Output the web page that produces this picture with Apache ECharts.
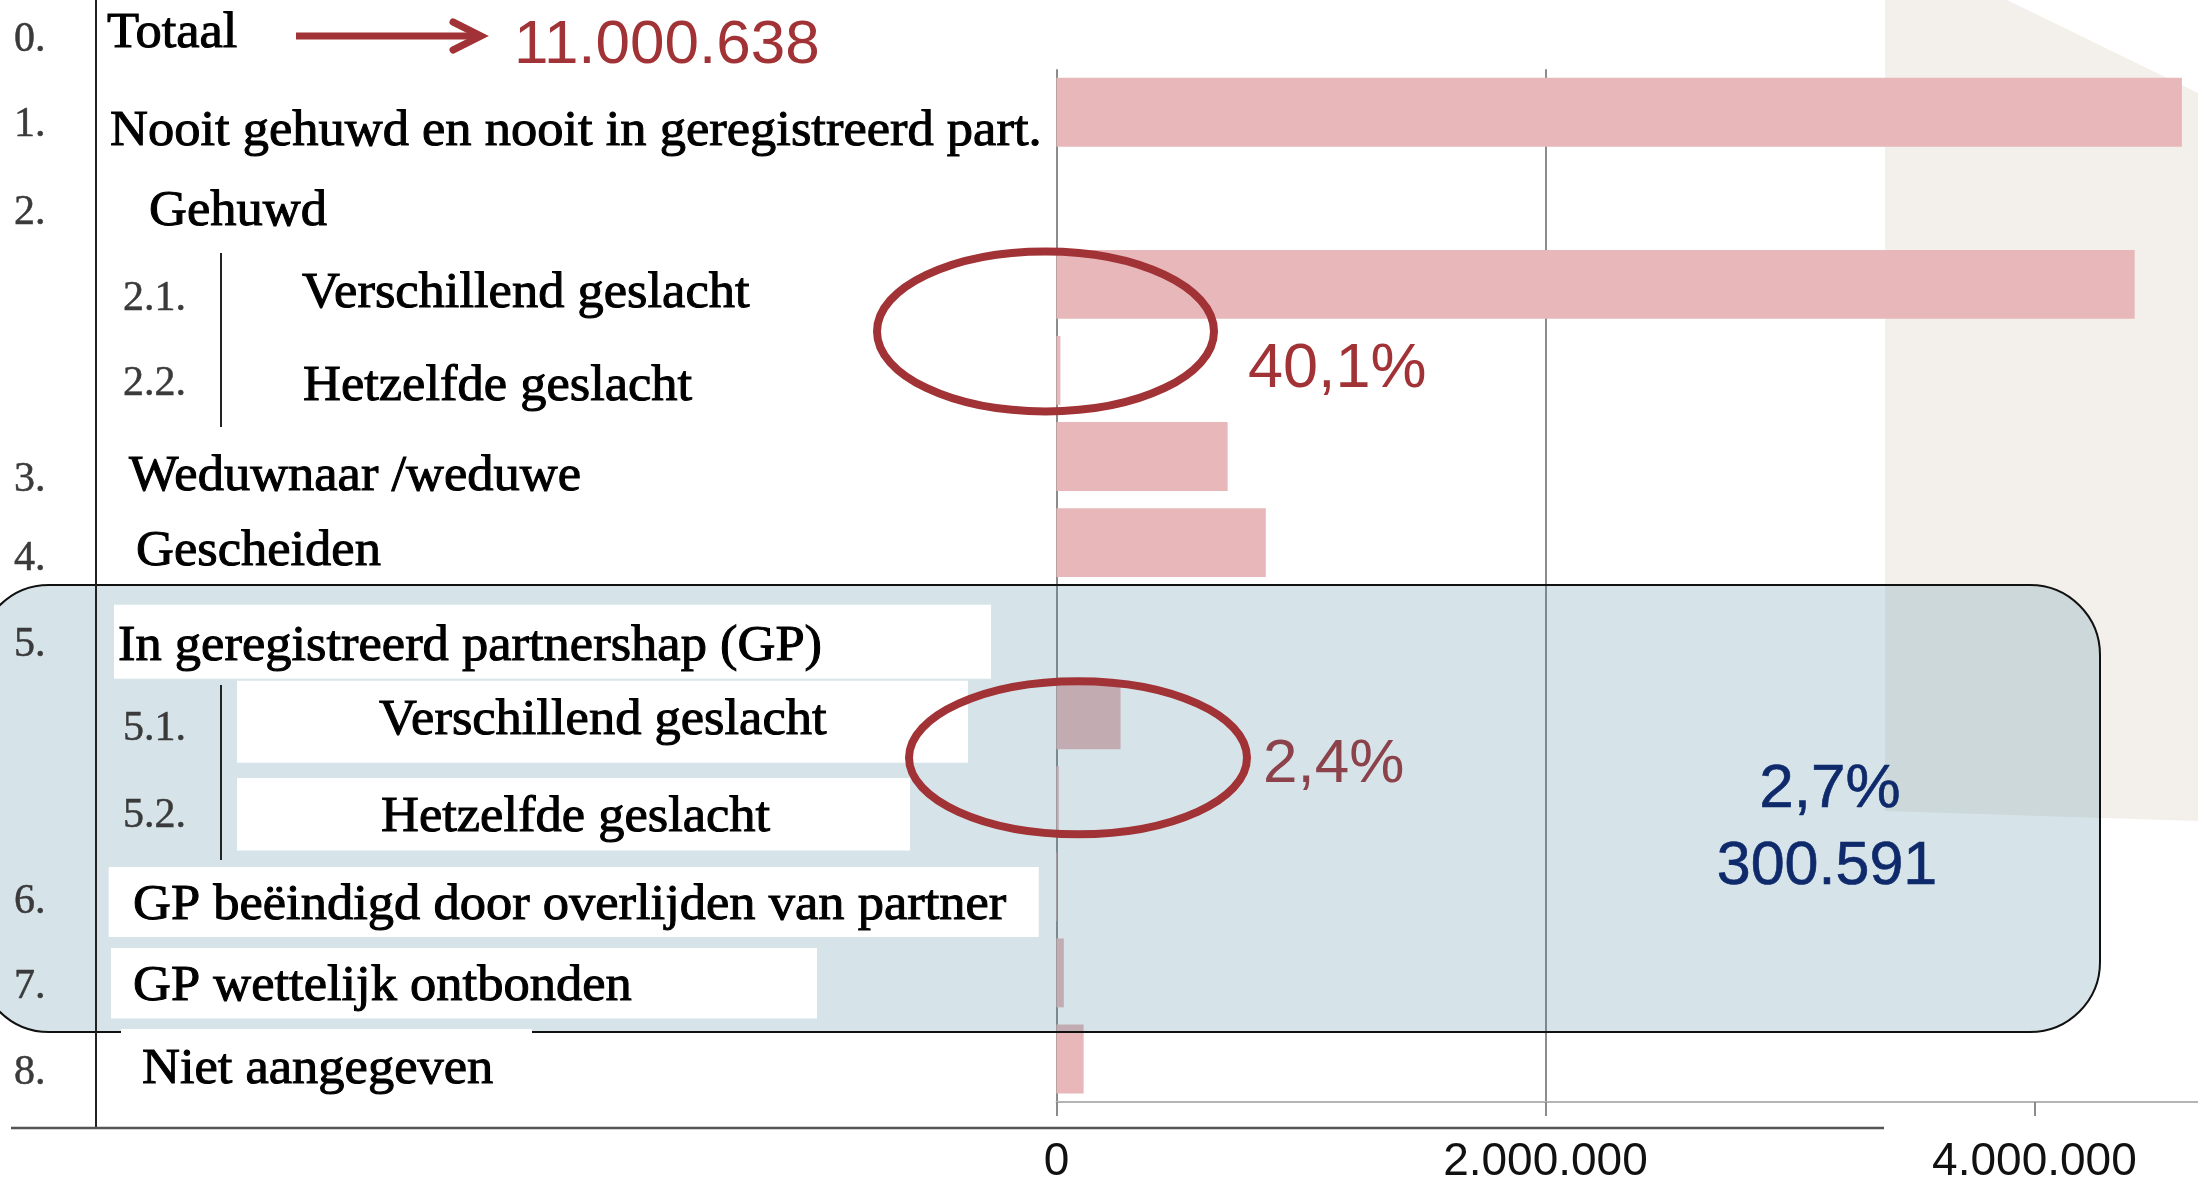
<!DOCTYPE html>
<html>
<head>
<meta charset="utf-8">
<script src="https://cdn.jsdelivr.net/npm/echarts@6/dist/echarts.min.js"></script>
<style>
  html, body { margin: 0; padding: 0; background: #fff; }
  #main { width: 2198px; height: 1185px; }
</style>
</head>
<body>
<div id="main"></div>
<script>
// rows of the table (burgerlijke staat), top to bottom
var rowNumbers = ['1.', '2.', '2.1.', '2.2.', '3.', '4.', '5.', '5.1.', '5.2.', '6.', '7.', '8.'];
var rowLabels = [
  'Nooit gehuwd en nooit in geregistreerd part.',
  'Gehuwd',
  'Verschillend geslacht',
  'Hetzelfde geslacht',
  'Weduwnaar /weduwe',
  'Gescheiden',
  'In geregistreerd partnershap (GP)',
  'Verschillend geslacht',
  'Hetzelfde geslacht',
  'GP beëindigd door overlijden van partner',
  'GP wettelijk ontbonden',
  'Niet aangegeven'
];
// persons per row
var values = [4603000, null, 4410000, 16000, 700000, 856000, null, 262000, 9500, 2000, 30000, 111000];
var xTicks = [0, 2000000, 4000000];
var xMax = 4669000;

var totalNumber = '0.';
var totalLabel = 'Totaal';
var totalValue = '11.000.638';
var shareMarried = '40,1%';
var shareGP = '2,4%';
var shareGPAll = '2,7%';
var countGPAll = '300.591';

// layout of the left-hand table
var subRow = [false, false, true, true, false, false, false, true, true, false, false, false];
var labelX = [110, 149, 302, 303, 129, 136, 118, 379, 381, 133, 133, 142];
var labelDy = [15.3, 9.3, 5.9, 12.8, 16.3, 5.1, 14.2, 2.6, 13, 15, 9.9, 7.1];
var numDy = [9.2, 11, 11.1, 9.5, 19.3, 12.2, 12.2, 10.6, 11, 11.5, 10, 10];
var TXT_SHIFT = 4;

var RED = '#a13235';
var NAVY = '#0f2a6b';
var SERIF = '"Liberation Serif", "Times New Roman", serif';
var SANS = '"Liberation Sans", Arial, sans-serif';

function dots(v) {
  return String(v).replace(/\B(?=(\d{3})+(?!\d))/g, '.');
}

var chart = echarts.init(document.getElementById('main'));

var option = {
  animation: false,
  backgroundColor: '#fff',
  grid: { left: 1056.5, right: 0, top: 69.2, height: 1038.8 },
  xAxis: {
    type: 'value',
    min: 0,
    max: xMax,
    interval: 2000000,
    axisLine: { show: true, lineStyle: { color: '#b4b4b4', width: 2 } },
    axisTick: { show: true, customValues: xTicks, length: 14, lineStyle: { color: '#8c8c8c', width: 2 } },
    splitLine: { show: true, showMaxLine: false, lineStyle: { color: '#8c8c8c', width: 2 } },
    axisLabel: {
      customValues: xTicks,
      margin: 33 + TXT_SHIFT,
      fontSize: 46,
      color: '#111',
      fontFamily: SANS,
      formatter: function (v) { return xTicks.indexOf(v) >= 0 ? dots(v) : ''; }
    }
  },
  yAxis: {
    type: 'category',
    inverse: true,
    data: rowNumbers,
    axisLine: { show: false },
    axisTick: { show: false },
    axisLabel: { show: false },
    splitLine: { show: false }
  },
  series: [{
    type: 'bar',
    data: values,
    barCategoryGap: '20%',
    itemStyle: { color: '#e7b7b9' },
    z: 2
  }]
};

chart.setOption(option);

// positions from the chart's own axes
var x0 = chart.convertToPixel({ xAxisIndex: 0 }, 0);
var rowY = rowNumbers.map(function (n, i) { return chart.convertToPixel({ yAxisIndex: 0 }, i); });
var pitch = rowY[1] - rowY[0];

var g = [];

// grey page corner on the right
g.push({
  type: 'polygon', z: -1, silent: true,
  shape: { points: [[1885, 0], [2007, 0], [2198, 93], [2198, 821], [1885, 811]] },
  style: { fill: '#f3f0ec' }
});

// blue rounded box around the GP rows
g.push({
  type: 'rect', z: 5, silent: true,
  shape: { x: -21, y: 585, width: 2121, height: 447, r: 70 },
  style: { fill: 'rgba(69,132,155,0.22)', stroke: '#111', lineWidth: 2 }
});

// white boxes behind the GP labels
var boxes = [
  [114, 604.7, 877, 74],
  [237, 680.8, 731, 82],
  [237, 778, 673, 72.5],
  [108.7, 867, 930, 70],
  [111, 948, 706, 70.6],
  [121, 1029, 411, 6]
];
boxes.forEach(function (b) {
  g.push({
    type: 'rect', z: 6, silent: true,
    shape: { x: b[0], y: b[1], width: b[2], height: b[3] },
    style: { fill: '#fff' }
  });
});

// table lines
g.push({ type: 'line', z: 7, silent: true, shape: { x1: 96, y1: 0, x2: 96, y2: 1128 }, style: { stroke: '#222', lineWidth: 2 } });
g.push({ type: 'line', z: 7, silent: true, shape: { x1: 11, y1: 1128, x2: 1884, y2: 1128 }, style: { stroke: '#555', lineWidth: 2.5 } });
g.push({ type: 'line', z: 7, silent: true, shape: { x1: 221, y1: 253, x2: 221, y2: 427 }, style: { stroke: '#222', lineWidth: 2 } });
g.push({ type: 'line', z: 7, silent: true, shape: { x1: 221, y1: 685, x2: 221, y2: 860 }, style: { stroke: '#222', lineWidth: 2 } });

function label(text, x, y, opts) {
  var fill = opts.color || '#000';
  g.push({
    type: 'text', z: 8, silent: true,
    x: x, y: y + TXT_SHIFT, scaleX: opts.scaleX || 1,
    style: {
      text: text,
      fontSize: opts.size,
      fontFamily: opts.family,
      fill: fill,
      stroke: opts.bold ? fill : null,
      lineWidth: opts.bold || 0,
      align: opts.align || 'left',
      verticalAlign: 'middle'
    }
  });
}

// total row
var yTotal = rowY[0] - pitch;
label(totalNumber, 14, yTotal + 10, { size: 42, family: SERIF, color: '#3a3a3a', bold: 0.5 });
label(totalLabel, 107, yTotal + 4, { size: 50, family: SERIF, scaleX: 1.05, bold: 1 });
label(totalValue, 514, yTotal + 16, { size: 62, family: SANS, color: RED });

// arrow
g.push({ type: 'line', z: 8, silent: true, shape: { x1: 296, y1: 36, x2: 478, y2: 36 }, style: { stroke: RED, lineWidth: 7 } });
g.push({
  type: 'polyline', z: 8, silent: true,
  shape: { points: [[453, 22], [481, 36], [453, 50]] },
  style: { stroke: RED, lineWidth: 7, lineCap: 'round', lineJoin: 'miter', fill: 'none' }
});

// row numbers and labels
rowNumbers.forEach(function (n, i) {
  label(n, subRow[i] ? 123 : 14, rowY[i] + numDy[i], { size: 42, family: SERIF, color: '#3a3a3a', bold: 0.5 });
  label(rowLabels[i], labelX[i], rowY[i] + labelDy[i], { size: 50, family: SERIF, scaleX: 1.05, bold: 1 });
});

// annotations
label(shareMarried, 1248, (rowY[2] + rowY[3]) / 2 + 38, { size: 63, family: SANS, color: RED });
label(shareGP, 1263, (rowY[7] + rowY[8]) / 2 + 3.5, { size: 62, family: SANS, color: '#8c424b' });
label(shareGPAll, 1830, 786, { size: 62, family: SANS, color: NAVY, align: 'center', bold: 0.6 });
label(countGPAll, 1827, 863.5, { size: 61, family: SANS, color: NAVY, align: 'center', bold: 0.6 });

g.push({
  type: 'ellipse', z: 9, silent: true,
  shape: { cx: x0 - 11, cy: (rowY[2] + rowY[3]) / 2 + 4, rx: 168.5, ry: 80 },
  style: { fill: 'none', stroke: RED, lineWidth: 8 }
});
g.push({
  type: 'ellipse', z: 9, silent: true,
  shape: { cx: x0 + 21.5, cy: (rowY[7] + rowY[8]) / 2, rx: 169, ry: 76.5 },
  style: { fill: 'none', stroke: RED, lineWidth: 8 }
});

chart.setOption({ graphic: g });
</script>
</body>
</html>
